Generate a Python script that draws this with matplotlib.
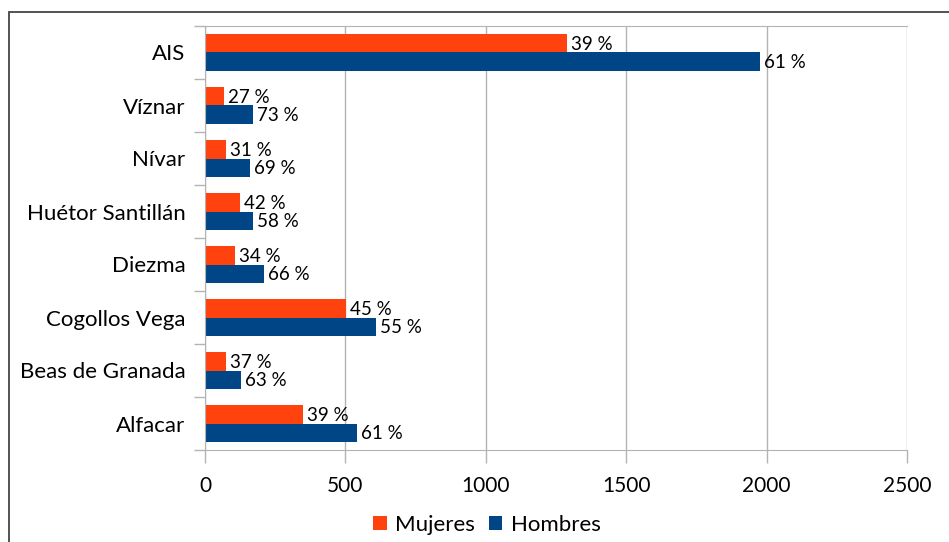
import matplotlib
matplotlib.use('Agg')
import matplotlib.pyplot as plt
import numpy as np
from matplotlib.patches import Rectangle

municipios = ['Alfacar', 'Beas de Granada', 'Cogollos Vega', 'Diezma',
              'Huétor Santillán', 'Nívar', 'Víznar', 'AIS']
mujeres = [349, 75, 502, 107, 125, 75, 66, 1289]
hombres = [541, 128, 609, 210, 171, 160, 172, 1976]
pct_mujeres = ['39 %', '37 %', '45 %', '34 %', '42 %', '31 %', '27 %', '39 %']
pct_hombres = ['61 %', '63 %', '55 %', '66 %', '58 %', '69 %', '73 %', '61 %']

naranja = '#ff420e'
azul = '#004586'
gris = '#b3b3b3'

plt.rcParams['font.family'] = ['Lato', 'DejaVu Sans']

fig = plt.figure(figsize=(9.49, 5.42), dpi=100)
ax = fig.add_axes([205/949, 1-450/542, 702/949, 424/542])

y = np.arange(len(municipios))
h = 0.34
ax.barh(y + h/2, mujeres, height=h, color=naranja, label='Mujeres')
ax.barh(y - h/2, hombres, height=h, color=azul, label='Hombres')

# etiquetas de porcentaje
for i in range(len(municipios)):
  ax.annotate(pct_mujeres[i], (mujeres[i], y[i] + h/2), xytext=(3, -1),
              textcoords='offset points', va='center', ha='left', fontsize=13.5)
  ax.annotate(pct_hombres[i], (hombres[i], y[i] - h/2), xytext=(3, -1),
              textcoords='offset points', va='center', ha='left', fontsize=13.5)

ax.set_xlim(0, 2500)
ax.set_ylim(-0.5, len(municipios) - 0.5)
ax.set_xticks([0, 500, 1000, 1500, 2000, 2500])
ax.set_yticks(y)
ax.set_yticklabels(municipios)
ax.set_yticks(np.arange(-0.5, len(municipios)), minor=True)

ax.grid(axis='x', color=gris, lw=1)
ax.set_axisbelow(True)
for s in ax.spines.values():
  s.set_color(gris)
ax.spines['right'].set_visible(False)

ax.tick_params(axis='y', which='major', length=0, pad=14, labelsize=16)
ax.tick_params(axis='y', which='minor', length=8, color=gris, width=1)
ax.tick_params(axis='x', which='major', length=9, color=gris, width=1, pad=10, labelsize=15)

ax.legend(loc='center', bbox_to_anchor=(487/949, 1-525/542), bbox_transform=fig.transFigure,
          ncol=2, frameon=False, fontsize=16, handlelength=0.6, handleheight=0.6,
          handletextpad=0.4, columnspacing=0.6)

# marco del grafico
fig.patches.append(Rectangle((9/949, -0.1), 1.2, 1.1 - 12/542, transform=fig.transFigure,
                             fill=False, edgecolor='#444444', lw=1.3, zorder=10))

plt.savefig('out.png', dpi=100)
